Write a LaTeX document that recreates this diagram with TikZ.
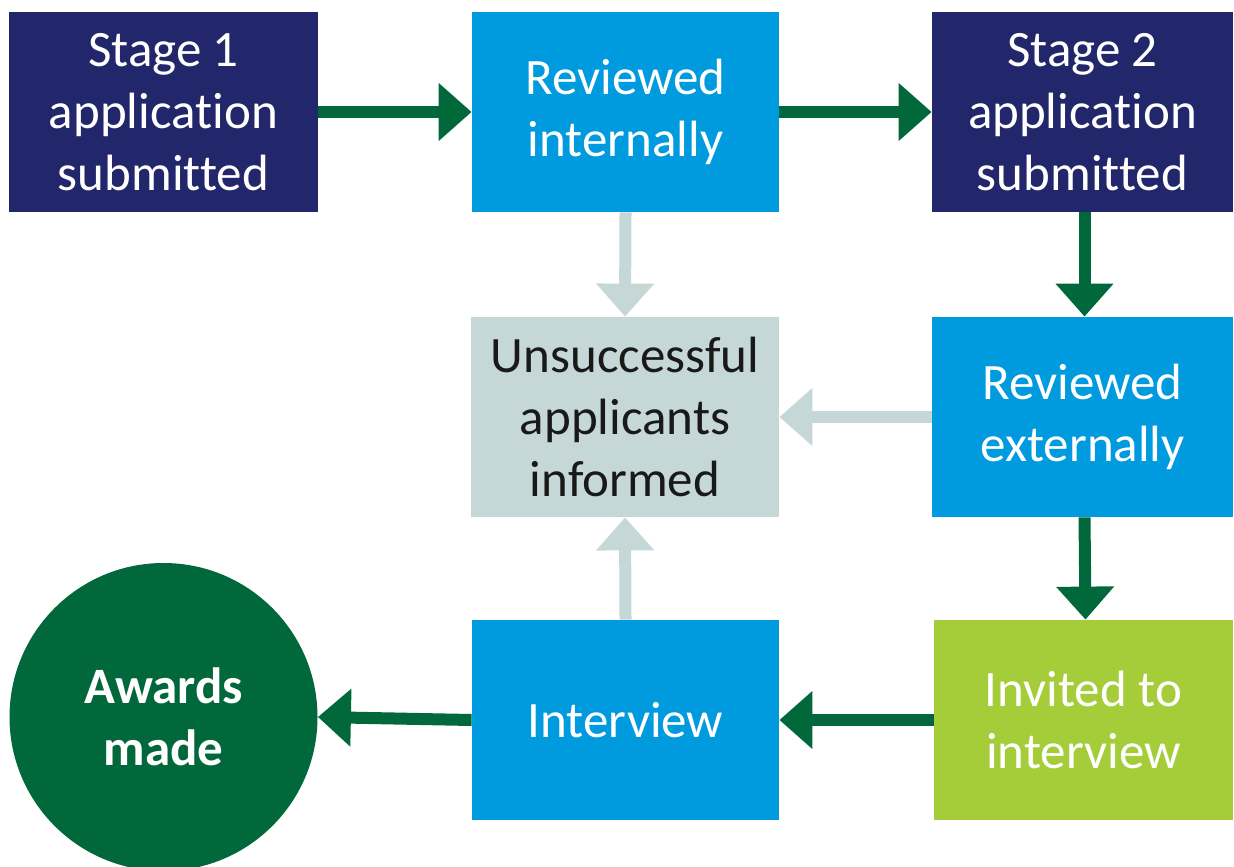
\documentclass[tikz,border=0pt]{standalone}
\usepackage{fontspec}
\setmainfont{Carlito}[Ligatures={NoCommon}]
\usetikzlibrary{arrows.meta}
\definecolor{navy}{HTML}{22266B}
\definecolor{sky}{HTML}{009ADE}
\definecolor{pale}{HTML}{C5D8D7}
\definecolor{dgreen}{HTML}{00683A}
\definecolor{lime}{HTML}{A5CD3A}
\tikzset{
  box/.style={rectangle, minimum height=100pt, inner sep=0pt, align=center,
    font=\fontsize{25.5}{31}\selectfont, text=white},
  gflow/.style={draw=dgreen, line width=6pt,
    -{Triangle[width=28pt,length=16.5pt]}},
  pflow/.style={draw=pale, line width=6pt,
    -{Triangle[width=28pt,length=16.5pt]}},
}
\begin{document}
\begin{tikzpicture}[x=0.5pt,y=-0.5pt]
\useasboundingbox (0,0) rectangle (1234,866);
\node[box, fill=navy, minimum width=154.5pt] (s1) at (163.5,112) {Stage 1\\application\\submitted};
\node[box, fill=sky, minimum width=153.5pt] (ri) at (625.5,112) {Reviewed\\internally};
\node[box, fill=navy, minimum width=150.5pt] (s2) at (1082.5,112) {Stage 2\\application\\submitted};
\node[box, fill=pale, text=black!90, minimum width=154pt] (un) at (625,417) {Unsuccessful\\applicants\\informed};
\node[box, fill=sky, minimum width=150.5pt] (re) at (1082.5,417) {Reviewed\\externally};
\node[box, fill=sky, minimum width=153.5pt] (iv) at (625.5,720) {Interview};
\node[box, fill=lime, minimum width=149.5pt] (in) at (1083.5,720) {Invited to\\interview};
\node[circle, fill=dgreen, minimum size=154pt, inner sep=0pt, align=center,
  text=white, font=\bfseries\fontsize{25.5}{31}\selectfont] (aw) at (163.5,717) {Awards\\made};
\draw[gflow] (s1.east) -- (ri.west);
\draw[gflow] (ri.east) -- (s2.west);
\draw[gflow] ([xshift=1pt]s2.south) -- ([xshift=1pt]re.north);
\draw[gflow] ([xshift=1pt]re.south) -- ([xshift=1pt]in.north);
\draw[gflow] (in.west) -- (iv.west -| iv.east);
\draw[gflow] (iv.west) -- (aw.east);
\draw[pflow] (ri.south) -- (un.north);
\draw[pflow] (re.west) -- (un.east);
\draw[pflow] (iv.north) -- (un.south);
\end{tikzpicture}
\end{document}
